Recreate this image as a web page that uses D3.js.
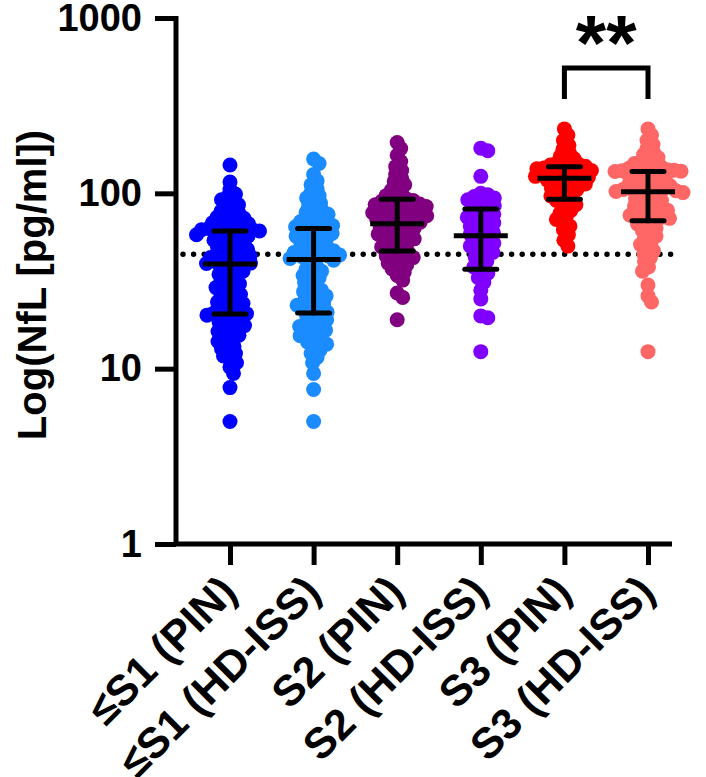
<!DOCTYPE html>
<html>
<head>
<meta charset="utf-8">
<script src="https://cdn.jsdelivr.net/npm/d3@7"></script>
<style>
  html, body { margin: 0; padding: 0; background: #fff; }
  svg { display: block; }
  text { font-family: "Liberation Sans", Arial, Helvetica, sans-serif; font-weight: bold; fill: #000; }
</style>
</head>
<body>
<svg id="chart" width="706" height="777"></svg>
<script>
// ---------- data ----------
const categories = ["≤S1 (PIN)", "≤S1 (HD-ISS)", "S2 (PIN)", "S2 (HD-ISS)", "S3 (PIN)", "S3 (HD-ISS)"];
const colors = ["#0000FF", "#1A8CFF", "#800080", "#8000FF", "#FF0000", "#FF6666"];

const s1PIN = [145, 116, 105, 99, 96, 92, 89, 86, 84, 81, 79, 77, 75, 73, 72, 70, 69, 68, 67, 66, 65, 64, 63, 62, 62, 61.5, 61,
  60, 59, 58, 58, 57, 56, 55, 54, 53, 52, 51, 50, 49.5, 48, 47, 46.5, 46, 45, 44, 43.5, 43, 42, 41.5, 41, 40.5, 40, 39.8,
  39, 38, 37, 36, 35, 34.5, 33, 32, 31, 30.5, 29.5, 29, 28, 27, 26.5, 26, 25, 24.5, 24, 23.5, 23, 22.5, 22, 21.5, 21, 20.8, 20.6,
  20.2, 19.8, 19.3, 19, 18.5, 18, 17.6, 17.2, 16.8, 16.3, 16, 15.5, 15.1, 14.7, 14.3, 13.8, 13.4, 13, 12.6, 12.2, 11.8, 11.3, 10.8, 10.2, 9.4, 7.8, 5.0];
const s1HD = [157, 148, 128, 118, 112, 106, 101, 97, 94, 91, 88, 85, 82, 80, 78, 76, 74, 72, 70, 69, 68, 67, 65.5, 64.5, 63.5,
  62, 61, 60, 59, 58, 57, 56, 55, 54, 53, 52, 51, 50, 49, 48, 47.5, 47, 46, 45.5, 45, 44.5, 44, 43.5, 43, 42.5,
  41.5, 40, 38.5, 37, 36, 35, 34, 33, 32, 31, 30, 29, 28, 27.5, 27, 26, 25, 24.5, 24, 23.5, 23, 22.5, 22, 21.5, 21,
  20.5, 20, 19.5, 19, 18.6, 18.2, 17.8, 17.4, 17, 16.6, 16.2, 15.8, 15.4, 15, 14.6, 14.2, 13.8, 13.3, 12.8, 12.2, 11.6, 10.8, 9.4, 7.6, 5.0];
const s2PIN = [195, 180, 165, 152, 142, 135, 128, 122, 117, 112, 108, 104, 100, 97, 95, 93,
  91, 90, 89, 88, 87, 86, 85, 84, 83, 82, 81, 80, 79, 78, 77.5, 76.5, 76, 75, 74.5, 73, 72, 71.5, 70.5, 69.5, 68.5, 67.5,
  66, 65, 64.5, 63, 62, 61.5, 60, 59, 58.5, 57, 56, 55, 54, 53, 52, 50.5, 49.5, 48.5, 47.5,
  46, 45, 44, 43, 42, 41, 40, 39, 38, 37, 35.5, 34, 32, 27, 25.5, 19];
const s2HD = [181, 175, 125, 100, 98, 96, 94, 92, 90, 88, 86, 85, 82, 80,
  79, 76, 74, 73, 71, 70, 68, 66, 65, 63, 61, 60, 58.5,
  56, 55, 54, 52, 51, 50, 48, 47, 46, 44, 43, 41, 40, 38,
  36, 35, 33, 31, 28, 25, 20, 19.5, 12.5];
const s3PIN = [233, 215, 200, 188, 178, 170, 163, 158, 154, 150, 147, 145, 143.5, 142.5,
  141, 139.5, 138, 136.5, 135, 133.5, 132, 130.5, 129, 127.5, 126, 125, 123.5, 122.5,
  121, 119, 117, 115, 113, 111, 109, 107, 105, 103, 101, 99, 96.5, 94,
  91, 89, 86, 83, 80, 77, 74, 71, 68, 65, 62, 58, 54, 50];
const s3HD = [233, 215, 200, 190, 180, 172, 166, 160, 155, 151, 148, 145, 142.5, 140.5, 139, 137.5, 136.5, 135.5, 134.5, 133.8, 133.2,
  132, 130, 128, 126, 124, 122, 120, 118, 116, 114.5, 113, 111.5, 110, 108.5, 107, 106, 105, 104, 103.5, 103, 102.5,
  101, 99, 97, 95, 93, 91, 89, 87.5, 86, 84.5, 83, 81.5, 80, 78.5, 77, 76, 75, 74, 73, 72, 71,
  69, 67, 65, 63, 61, 59, 57, 55, 53, 51, 49, 47, 45, 43, 41, 38, 36, 30, 26, 24, 12.5];
const seriesValues = [s1PIN, s1HD, s2PIN, s2HD, s3PIN, s3HD];

const medians = [39.5, 42, 67, 57.3, 122, 102];
const lowerBar = [20.5, 20.8, 46.9, 36.9, 92.5, 69.8];
const upperBar = [61, 63, 92.5, 81.4, 142, 133];

const yTicks = [1, 10, 100, 1000];
const yTickLabels = ["1", "10", "100", "1000"];
const referenceLine = 45;
const yTitle = "Log(NfL [pg/ml])";
const sigPair = [4, 5];
const sigLabel = "**";

// ---------- layout ----------
const svg = d3.select("#chart");
const axisX = 176, axisTop = 18, axisBottom = 544, axisRight = 672;
const y = d3.scaleLog().domain([1, 1000]).range([axisBottom, axisTop]);
const x = d3.scalePoint().domain(categories).range([230, 648]);

const R = 7.5, SEP = 7;
function swarm(vals, cx) {
  const sorted = vals.slice().sort((a, b) => b - a);
  const placed = [];
  sorted.forEach(v => {
    const py = y(v);
    let px = cx;
    for (let k = 0; k < 400; k++) {
      const off = (k % 2 === 1) ? (k + 1) / 2 : -k / 2;
      const tx = cx + off * 0.5;
      let ok = true;
      for (const p of placed) {
        const dy = p.y - py;
        if (Math.abs(dy) >= SEP) continue;
        const dx = p.x - tx;
        if (dx * dx + dy * dy < SEP * SEP) { ok = false; break; }
      }
      if (ok) { px = tx; break; }
    }
    placed.push({ x: px, y: py, v });
  });
  return placed;
}

// dotted reference line (behind the points)
svg.append("line")
  .attr("x1", 183).attr("x2", axisRight)
  .attr("y1", y(referenceLine)).attr("y2", y(referenceLine))
  .attr("stroke", "#000").attr("stroke-width", 5.5)
  .attr("stroke-linecap", "round")
  .attr("stroke-dasharray", "0 10.6");

// points
categories.forEach((c, i) => {
  const pts = swarm(seriesValues[i], x(c));
  svg.append("g").selectAll("circle").data(pts).join("circle")
    .attr("cx", d => d.x).attr("cy", d => d.y).attr("r", R)
    .attr("fill", colors[i]);
});

// median + error bars
const eb = svg.append("g").attr("stroke", "#000").attr("stroke-width", 5).attr("stroke-linecap", "round");
categories.forEach((c, i) => {
  const cx = x(c);
  eb.append("line").attr("x1", cx).attr("x2", cx).attr("y1", y(lowerBar[i])).attr("y2", y(upperBar[i]));
  eb.append("line").attr("x1", cx - 16).attr("x2", cx + 16).attr("y1", y(lowerBar[i])).attr("y2", y(lowerBar[i]));
  eb.append("line").attr("x1", cx - 16).attr("x2", cx + 16).attr("y1", y(upperBar[i])).attr("y2", y(upperBar[i]));
  eb.append("line").attr("x1", cx - 27).attr("x2", cx + 27).attr("y1", y(medians[i])).attr("y2", y(medians[i]))
    .attr("stroke-linecap", "butt");
});

// y axis
const yAxis = d3.axisLeft(y).tickValues(yTicks).tickFormat((d, i) => yTickLabels[i]).tickSize(21).tickPadding(13);
const gy = svg.append("g").attr("transform", `translate(${axisX},0)`).call(yAxis);
gy.select(".domain").attr("d", `M0,${axisTop - 2}V${axisBottom}`).attr("stroke", "#000").attr("stroke-width", 5);
gy.selectAll(".tick line").attr("stroke", "#000").attr("stroke-width", 5);
gy.selectAll(".tick text").attr("font-size", 38).attr("font-weight", "bold")
  .attr("font-family", "'Liberation Sans', Arial, sans-serif").attr("fill", "#000");

// x axis
const xAxis = d3.axisBottom(x).tickSize(21).tickFormat("");
const gx = svg.append("g").attr("transform", `translate(0,${axisBottom})`).call(xAxis);
gx.select(".domain").attr("d", `M${axisX - 2},0H${axisRight}`).attr("stroke", "#000").attr("stroke-width", 5);
gx.selectAll(".tick line").attr("stroke", "#000").attr("stroke-width", 5);

// rotated category labels
svg.append("g").selectAll("text").data(categories).join("text")
  .attr("transform", d => `translate(${x(d) + 9},${axisBottom + 50}) rotate(-45)`)
  .attr("text-anchor", "end")
  .attr("font-size", 43)
  .text(d => d);

// y title
svg.append("text")
  .attr("transform", `translate(46,${(axisTop + axisBottom) / 2 + 4}) rotate(-90)`)
  .attr("text-anchor", "middle")
  .attr("font-size", 40)
  .text(yTitle);

// significance bracket
const bx1 = x(categories[sigPair[0]]), bx2 = x(categories[sigPair[1]]);
svg.append("path")
  .attr("d", `M${bx1},99V68H${bx2}V99`)
  .attr("fill", "none").attr("stroke", "#000").attr("stroke-width", 5)
  .attr("stroke-linejoin", "miter");
svg.append("text")
  .attr("x", (bx1 + bx2) / 2).attr("y", 70)
  .attr("text-anchor", "middle").attr("font-size", 78)
  .text(sigLabel);
</script>
</body>
</html>
